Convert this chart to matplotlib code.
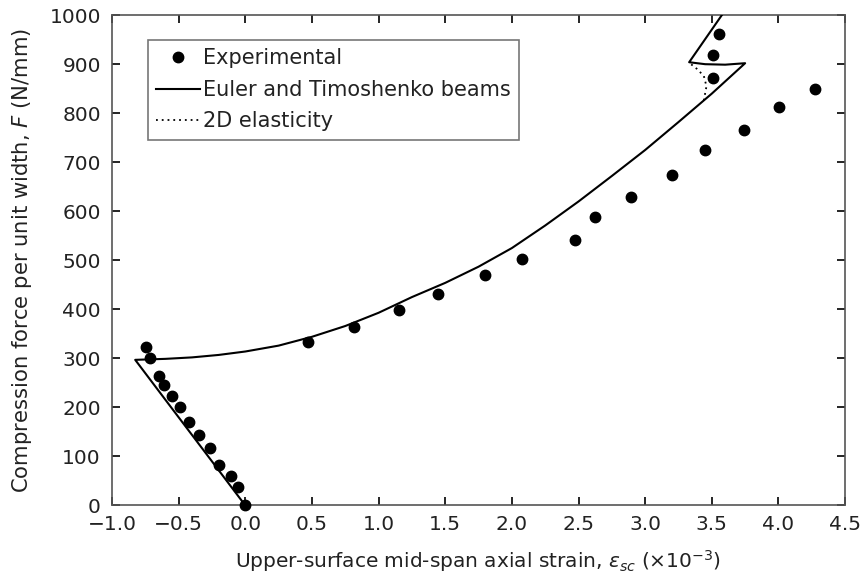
import matplotlib
matplotlib.use("Agg")
import matplotlib.pyplot as plt

plt.rcParams['font.family'] = ['DejaVu Sans']
plt.rcParams['mathtext.fontset'] = 'dejavusans'
plt.rcParams['axes.unicode_minus'] = True

# Experimental data
exp_strain = [-0.746, -0.714, -0.644, -0.607, -0.552, -0.487, -0.425, -0.349,
              -0.263, -0.199, -0.107, -0.054, 0.0,
              0.467, 0.812, 1.154, 1.449, 1.796, 2.073, 2.475, 2.62, 2.894,
              3.20, 3.446, 3.738, 4.005, 4.275, 3.509, 3.509, 3.552]
exp_force = [324, 301, 265, 246, 223, 201, 171, 144, 117, 82, 60, 37, 0,
             334, 363, 399, 431, 470, 502, 542, 588, 630,
             675, 724, 765, 813, 849, 872, 919, 962]

# Euler and Timoshenko beams (solid)
beam_strain = [0.0, -0.826, -0.6, -0.4, -0.2, 0.0, 0.25, 0.5, 0.75, 1.0, 1.25,
               1.5, 1.75, 2.0, 2.25, 2.5, 2.75, 3.0, 3.25, 3.5, 3.75,
               3.6, 3.45, 3.33, 3.58, 3.63]
beam_force = [0, 297, 299, 302, 307, 314, 326, 344, 366, 393, 425,
              454, 487, 525, 571, 620, 672, 725, 782, 840, 902,
              899, 900, 904, 1002, 1022]

# 2D elasticity (dotted, where it departs from the beam curves)
elas_strain = [3.44, 3.46, 3.44, 3.39, 3.33]
elas_force = [826, 855, 876, 890, 903]

fig = plt.figure(figsize=(8.65, 5.83), dpi=100)
ax = fig.add_axes([0.1295, 0.133, 0.8475, 0.841])

ax.plot(beam_strain, beam_force, color='black', lw=1.5, label='Euler and Timoshenko beams', zorder=3)
ax.plot(elas_strain, elas_force, color='black', lw=1.3, ls=(0, (1, 2.2)), label='2D elasticity', zorder=2)
ax.plot(exp_strain, exp_force, 'o', color='black', ms=7.5, label='Experimental', zorder=4, clip_on=False)

ax.set_xlim(-1.0, 4.5)
ax.set_ylim(0, 1000)
ax.set_xticks([-1.0, -0.5, 0.0, 0.5, 1.0, 1.5, 2.0, 2.5, 3.0, 3.5, 4.0, 4.5])
ax.set_yticks([0, 100, 200, 300, 400, 500, 600, 700, 800, 900, 1000])
ax.set_xticklabels(['\u22121.0', '\u22120.5', '0.0', '0.5', '1.0', '1.5', '2.0', '2.5', '3.0', '3.5', '4.0', '4.5'])

ax.tick_params(direction='in', top=True, right=True, length=6, width=1.2,
               labelsize=14.5, colors='black', labelcolor='#222222')
ax.tick_params(axis='x', pad=7)
ax.tick_params(axis='y', pad=8)
for s in ax.spines.values():
    s.set_color('#555555')
    s.set_linewidth(1.2)

ax.set_xlabel('Upper-surface mid-span axial strain, $\\varepsilon_{sc}$ ($\\times$10$^{-3}$)',
              fontsize=14.5, color='#222222', labelpad=10)
ax.set_ylabel('Compression force per unit width, $F$ (N/mm)', fontsize=15.2,
              color='#222222', labelpad=11)

h, l = ax.get_legend_handles_labels()
order = [2, 0, 1]
leg = ax.legend([h[i] for i in order], [l[i] for i in order],
                loc='upper left', bbox_to_anchor=(0.049, 0.949), borderaxespad=0,
                fontsize=15, frameon=True, fancybox=False, framealpha=1,
                edgecolor='#777777', handlelength=2.1, handletextpad=0.15,
                borderpad=0.4, labelspacing=0.55)
leg.get_frame().set_linewidth(1.2)
for t in leg.get_texts():
    t.set_color('#222222')

fig.savefig('out.png', dpi=100)
